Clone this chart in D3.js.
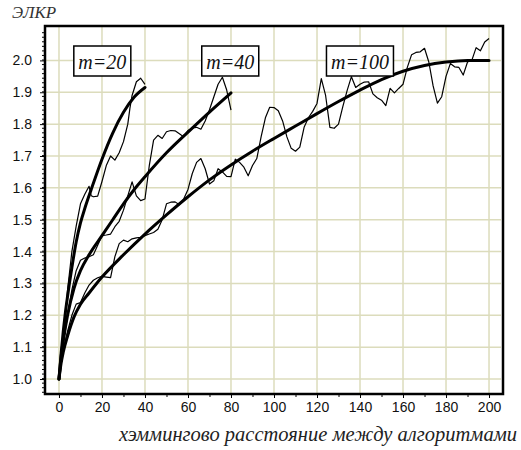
<!DOCTYPE html>
<html><head><meta charset="utf-8">
<script src="https://cdn.jsdelivr.net/npm/d3@7"></script>
<style>body{margin:0;background:#fff}svg{display:block}</style>
</head><body>
<script>
// ---- data ----
const xTicks = [0,20,40,60,80,100,120,140,160,180,200];
const yTicks = [1.0,1.1,1.2,1.3,1.4,1.5,1.6,1.7,1.8,1.9,2.0];
const seriesLabels = ["m=20","m=40","m=100"];

const x20 = [0,2,4,6,8,10,12,14,15,16,18,20,22,24,26,28,30,32,33,34,36,38,40];
const y20 = [1.0,1.13,1.28,1.40,1.48,1.55,1.58,1.605,1.575,1.572,1.574,1.62,1.67,1.70,1.687,1.71,1.745,1.80,1.85,1.89,1.933,1.944,1.925];
const x40 = [0,2,4,6,8,10,12,14,16,18,20,22,24,26,28,30,32,34,36,38,40,42,44,46,48,50,52,54,56,58,60,62,64,66,68,70,72,74,76,78,80];
const y40 = [1.0,1.11,1.2,1.28,1.34,1.373,1.38,1.384,1.39,1.42,1.45,1.452,1.455,1.478,1.495,1.53,1.575,1.619,1.575,1.56,1.565,1.67,1.75,1.765,1.755,1.776,1.78,1.779,1.77,1.76,1.78,1.788,1.79,1.784,1.81,1.845,1.885,1.925,1.947,1.907,1.844];
const x100 = [0,2,4,6,8,10,12,14,16,18,20,22,24,26,28,30,32,34,36,38,40,42,44,46,48,50,52,54,56,58,60,62,64,66,68,70,72,74,76,78,80,82,84,86,88,90,92,94,96,98,100,102,104,106,108,110,112,114,116,118,120,122,124,126,128,130,132,134,136,138,140,142,144,146,148,150,152,154,156,158,160,162,164,166,168,170,172,174,176,178,180,182,184,186,188,190,192,194,196,198,200];
const y100 = [1.0,1.09,1.15,1.2,1.235,1.24,1.27,1.295,1.31,1.318,1.322,1.32,1.318,1.384,1.425,1.436,1.431,1.44,1.443,1.445,1.45,1.455,1.46,1.47,1.5,1.55,1.555,1.556,1.547,1.565,1.595,1.645,1.68,1.692,1.66,1.612,1.622,1.66,1.65,1.636,1.635,1.69,1.68,1.665,1.638,1.67,1.692,1.76,1.82,1.853,1.852,1.842,1.81,1.76,1.724,1.715,1.728,1.79,1.82,1.84,1.865,1.943,1.89,1.79,1.787,1.80,1.855,1.905,1.949,1.915,1.925,1.932,1.933,1.895,1.883,1.875,1.858,1.912,1.898,1.912,1.925,1.978,2.018,2.025,2.027,2.038,1.995,1.92,1.866,1.886,1.95,1.99,1.98,1.978,1.954,1.995,2.0,2.04,2.03,2.058,2.069];

// fitted (smooth) curves
const fx20 = [0,1,2,3,4,6,8,10,12,15,20,25,30,35,40];
const fy20 = [1.0,1.08,1.15,1.21,1.26,1.35,1.43,1.49,1.535,1.595,1.69,1.772,1.837,1.885,1.915];
const fx40 = [0,1,2,4,7,10,14,20,25,30,35,40,50,60,70,80];
const fy40 = [1.0,1.07,1.12,1.2,1.285,1.34,1.39,1.45,1.50,1.55,1.595,1.635,1.71,1.775,1.838,1.898];
const fx100 = [0,1,2,4,7,10,14,20,30,40,50,60,70,80,90,100,110,120,130,140,150,160,170,180,190,200];
const fy100 = [1.0,1.05,1.085,1.135,1.195,1.235,1.27,1.32,1.39,1.455,1.515,1.572,1.625,1.672,1.715,1.755,1.794,1.833,1.871,1.907,1.94,1.966,1.984,1.995,2.0,2.0];

const xTitle = "хэммингово расстояние между алгоритмами";
const yTitle = "ЭЛКР";

// ---- chart ----
const W = 521, H = 450;
const L = 45, R = 503, T = 26, B = 394;
const SERIF = "font-family:'Liberation Serif';font-style:italic;";
const SANS = "font-family:'Liberation Sans';font-size:14px;";
const svg = d3.select("body").append("svg").attr("width", W).attr("height", H);
const x = d3.scaleLinear().domain([-6.5, 206.5]).range([L, R]);
const y = d3.scaleLinear().domain([0.953, 2.108]).range([B, T]);
const grid = "#dcdcbc";

// gridlines
const g = svg.append("g");
g.selectAll(".vg").data(xTicks).join("line")
  .attr("x1", d => x(d)).attr("x2", d => x(d)).attr("y1", T).attr("y2", B)
  .attr("stroke", grid).attr("stroke-width", 1.5);
g.selectAll(".hg").data(yTicks).join("line")
  .attr("x1", L).attr("x2", R - 2).attr("y1", d => y(d)).attr("y2", d => y(d))
  .attr("stroke", grid).attr("stroke-width", 1.5);

// axes
const xAxis = d3.axisBottom(x).tickValues(xTicks).tickFormat(d3.format("d")).tickSize(4).tickPadding(4);
const xMinor = d3.axisBottom(x).tickValues(d3.range(10, 200, 20)).tickFormat("").tickSize(3);
const yAxis = d3.axisLeft(y).tickValues(yTicks).tickFormat(d3.format(".1f")).tickSize(5).tickPadding(8);
const yMinor = d3.axisLeft(y).tickValues(d3.range(0, 80).map(i => 0.96 + i / 70).filter(v => v < 2.105)).tickFormat("").tickSize(3);

function styleAxis(sel) {
  sel.attr("font-family", null).attr("font-size", null);
  sel.select(".domain").remove();
  sel.selectAll("line").attr("stroke", "#000").attr("stroke-width", 1);
  sel.selectAll("text").attr("fill", "#111").attr("style", SANS);
}
svg.append("g").attr("transform", `translate(0,${B})`).call(xAxis).call(styleAxis);
svg.append("g").attr("transform", `translate(0,${B})`).call(xMinor).call(styleAxis);
svg.append("g").attr("transform", `translate(${L},0)`).call(yAxis).call(styleAxis);
svg.append("g").attr("transform", `translate(${L},0)`).call(yMinor).call(styleAxis);

// curves
const line = d3.line().x(d => x(d[0])).y(d => y(d[1]));
const smooth = d3.line().x(d => x(d[0])).y(d => y(d[1])).curve(d3.curveMonotoneX);
const zip = (a, b) => a.map((v, i) => [v, b[i]]);
const noisy = [zip(x20, y20), zip(x40, y40), zip(x100, y100)];
const fits = [zip(fx20, fy20), zip(fx40, fy40), zip(fx100, fy100)];

svg.append("g").selectAll("path").data(noisy).join("path")
  .attr("d", line).attr("fill", "none").attr("stroke", "#000").attr("stroke-width", 1.2).attr("stroke-linejoin", "round");
svg.append("g").selectAll("path").data(fits).join("path")
  .attr("d", smooth).attr("fill", "none").attr("stroke", "#000").attr("stroke-width", 3).attr("stroke-linecap", "round");

// frame
svg.append("rect").attr("x", L).attr("y", T).attr("width", R - L).attr("height", B - T)
  .attr("fill", "none").attr("stroke", "#000").attr("stroke-width", 2.5);

// labels in boxes
const boxX = [6.9, 66.4, 124.4]; // box left positions in data units
const boxW = [57, 57, 67];
const boxes = svg.append("g").selectAll("g").data(seriesLabels).join("g");
boxes.each(function(d, i) {
  const gg = d3.select(this);
  const bx = x(boxX[i]);
  gg.append("rect").attr("x", bx).attr("y", 46).attr("width", boxW[i]).attr("height", 30)
    .attr("fill", "#fff").attr("stroke", "#000").attr("stroke-width", 1.5);
  gg.append("text").attr("x", bx + boxW[i] / 2).attr("y", 68.5).attr("text-anchor", "middle")
    .text(d).attr("fill", "#111").attr("style", SERIF + "font-size:20px");
});

// titles
svg.append("text").attr("x", 12).attr("y", 17.5).text(yTitle).attr("fill", "#333")
  .attr("style", SERIF + "font-size:17px");
svg.append("text").attr("x", 517).attr("y", 441).attr("text-anchor", "end").text(xTitle).attr("fill", "#222")
  .attr("style", SERIF + "font-size:20.5px");
</script>
</body></html>
